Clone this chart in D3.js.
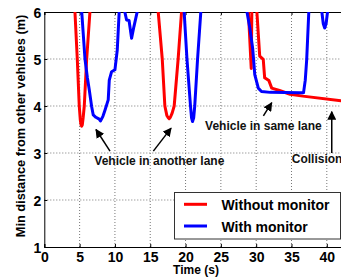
<!DOCTYPE html>
<html>
<head>
<meta charset="utf-8">
<script src="https://cdn.jsdelivr.net/npm/d3@7"></script>
<style>
  body { margin: 0; background: #fff; }
  svg { display: block; font-family: "Liberation Sans", Arial, Helvetica, sans-serif; font-weight: bold; }
</style>
</head>
<body>
<div id="chart"></div>
<script>
// data (values above 6 run off the top of the axes)
var withoutT = [4.0, 4.34, 4.67, 4.95, 5.1, 5.2, 5.29, 5.38, 5.5, 5.66, 6.0, 6.46, 6.8,
                15.8, 16.13, 16.7, 17.07, 17.35, 17.55, 17.68, 17.85, 18.1, 18.39, 18.95, 19.43, 19.8,
                28.6, 28.9, 29.3, 29.45, 29.9, 30.1, 30.5, 31.0, 31.2, 31.8, 32.2, 33.3, 34.8, 36.6, 42.0, 43.0];
var withoutY = [7, 6.0, 5.0, 4.0, 3.7, 3.6, 3.57, 3.6, 3.75, 4.0, 5.0, 6.0, 7,
                7, 6.0, 5.0, 4.0, 3.8, 3.75, 3.73, 3.76, 3.85, 4.0, 5.0, 6.0, 7,
                7, 6.0, 4.8, 7, 7, 6.0, 5.06, 4.99, 4.6, 4.54, 4.38, 4.33, 4.25, 4.21, 4.11, 4.09];

var withT = [5.0, 5.3, 5.76, 6.1, 6.37, 6.7, 6.93, 7.3, 7.78, 7.95, 8.3, 8.59, 9.05, 9.2, 9.53, 10.0, 10.33, 10.6, 10.8,
             11.2, 11.4, 11.65, 12.0, 12.36, 12.69, 13.15, 13.4,
             19.5, 19.8, 20.2, 20.7, 20.85, 20.99, 21.15, 21.3, 21.7, 22.16, 22.5,
             28.4, 28.7, 29.1, 29.5, 29.8, 30.3, 30.75, 32.0, 36.2, 36.7, 36.95, 37.15, 37.45, 37.6,
             39.1, 39.3, 39.5, 39.7, 39.9, 40.1, 40.3];
var withY = [7, 6.0, 5.0, 4.6, 4.34, 3.99, 3.81, 3.76, 3.72, 3.68, 3.78, 3.91, 4.13, 4.55, 4.73, 4.77, 5.19, 6.0, 7,
             7, 6.0, 5.83, 5.82, 5.44, 5.69, 6.0, 7,
             7, 6.0, 5.0, 4.0, 3.75, 3.67, 3.75, 4.0, 5.0, 6.0, 7,
             7, 6.0, 5.66, 5.23, 4.67, 4.38, 4.31, 4.29, 4.28, 4.28, 4.55, 4.98, 6.0, 7,
             7, 6.0, 5.75, 5.66, 5.75, 6.0, 7];

var xTicks = [0, 5, 10, 15, 20, 25, 30, 35, 40];
var yTicks = [1, 2, 3, 4, 5, 6];
var seriesNames = ["Without monitor", "With monitor"];
var seriesColors = ["#ff0000", "#0000ff"];

// annotations in data coordinates
var arrows = [
  { x1: 9.3,   y1: 3.04, x2: 7.32,  y2: 3.5 },
  { x1: 15.44, y1: 3.04, x2: 17.95, y2: 3.53 },
  { x1: 31.02, y1: 3.79, x2: 32.2,  y2: 4.07 },
  { x1: 40.7,  y1: 3.0,  x2: 40.7,  y2: 3.88 }
];
var notes = [
  { text: "Vehicle in another lane", x: 7.08,  y: 2.74 },
  { text: "Vehicle in same lane",    x: 22.76, y: 3.49 },
  { text: "Collision",               x: 35.04, y: 2.79 }
];

var W = 341, H = 279;
var mLeft = 44.3, mRight = 348, mTop = 12, mBottom = 247;

var x = d3.scaleLinear().domain([0, 43]).range([mLeft, mRight]);
var y = d3.scaleLinear().domain([1, 6]).range([mBottom, mTop]);

var svg = d3.select("#chart").append("svg")
    .attr("width", W)
    .attr("height", H);

var defs = svg.append("defs");
defs.append("clipPath").attr("id", "plot")
  .append("rect")
    .attr("x", mLeft).attr("y", mTop)
    .attr("width", mRight - mLeft).attr("height", mBottom - mTop);
defs.append("marker")
    .attr("id", "head")
    .attr("viewBox", "0 0 10 10")
    .attr("refX", 9).attr("refY", 5)
    .attr("markerWidth", 9).attr("markerHeight", 9)
    .attr("markerUnits", "userSpaceOnUse")
    .attr("orient", "auto")
  .append("path")
    .attr("d", "M0,0L10,5L0,10Z")
    .attr("fill", "#000");

// grid
svg.append("g").selectAll("line").data(xTicks.slice(1)).enter().append("line")
    .attr("x1", d => x(d)).attr("x2", d => x(d))
    .attr("y1", mTop).attr("y2", mBottom)
    .attr("stroke", "#777").attr("stroke-width", 1)
    .attr("stroke-dasharray", "1,2");
svg.append("g").selectAll("line").data(yTicks.slice(1, -1)).enter().append("line")
    .attr("x1", mLeft).attr("x2", mRight)
    .attr("y1", d => y(d)).attr("y2", d => y(d))
    .attr("stroke", "#777").attr("stroke-width", 1)
    .attr("stroke-dasharray", "1,2");

// axes (inward ticks, MATLAB style)
var fmt = d3.format("d");
var xAxis = svg.append("g")
    .attr("transform", "translate(0," + mBottom + ")")
    .call(d3.axisBottom(x).tickValues(xTicks).tickFormat(fmt).tickSize(-3).tickPadding(5));
var yAxis = svg.append("g")
    .attr("transform", "translate(" + mLeft + ",0)")
    .call(d3.axisLeft(y).tickValues(yTicks).tickFormat(fmt).tickSize(-3).tickPadding(3));
svg.append("g")
    .attr("transform", "translate(0," + mTop + ")")
    .call(d3.axisTop(x).tickValues(xTicks).tickSize(-3).tickFormat(""));
[xAxis, yAxis].forEach(function(a) {
  a.selectAll("path").attr("stroke", "#000");
  a.selectAll("line").attr("stroke", "#000");
  a.selectAll("text")
    .attr("font-size", 14)
    .attr("font-weight", "bold")
    .attr("font-family", "Liberation Sans, Arial, sans-serif")
    .attr("fill", "#000");
});
xAxis.selectAll("text").attr("dy", "0.68em");
yAxis.selectAll("text").attr("dy", "0.36em");

// lines
var line = d3.line()
    .x(d => x(d[0]))
    .y(d => y(d[1]));

var plot = svg.append("g").attr("clip-path", "url(#plot)");
plot.append("path")
    .datum(d3.zip(withoutT, withoutY))
    .attr("d", line)
    .attr("fill", "none")
    .attr("stroke", seriesColors[0])
    .attr("stroke-width", 3)
    .attr("stroke-linejoin", "round");
plot.append("path")
    .datum(d3.zip(withT, withY))
    .attr("d", line)
    .attr("fill", "none")
    .attr("stroke", seriesColors[1])
    .attr("stroke-width", 3)
    .attr("stroke-linejoin", "round");

// annotations
svg.append("g").selectAll("line").data(arrows).enter().append("line")
    .attr("x1", d => x(d.x1)).attr("y1", d => y(d.y1))
    .attr("x2", d => x(d.x2)).attr("y2", d => y(d.y2))
    .attr("stroke", "#000").attr("stroke-width", 1.5)
    .attr("marker-end", "url(#head)");
svg.append("g").selectAll("text").data(notes).enter().append("text")
    .attr("x", d => x(d.x)).attr("y", d => y(d.y))
    .attr("font-size", 12)
    .attr("fill", "#111")
    .text(d => d.text);

// legend
var lg = svg.append("g");
lg.append("rect")
    .attr("x", 174.5).attr("y", 192.5)
    .attr("width", 166).attr("height", 46.5)
    .attr("fill", "#fff").attr("stroke", "#333").attr("stroke-width", 1);
seriesNames.forEach(function(name, i) {
  var cy = 204.3 + i * 21.7;
  lg.append("line")
    .attr("x1", 184).attr("x2", 207)
    .attr("y1", cy).attr("y2", cy)
    .attr("stroke", seriesColors[i]).attr("stroke-width", 3);
  lg.append("text")
    .attr("x", 221.5).attr("y", cy + 5.5)
    .attr("font-size", 14)
    .attr("fill", "#000")
    .text(name);
});

// axis titles
svg.append("text")
    .attr("x", 196).attr("y", 274)
    .attr("text-anchor", "middle")
    .attr("font-size", 12)
    .text("Time (s)");
svg.append("text")
    .attr("transform", "translate(25,126) rotate(-90)")
    .attr("text-anchor", "middle")
    .attr("font-size", 12.8)
    .text("Min distance from other vehicles (m)");
</script>
</body>
</html>
